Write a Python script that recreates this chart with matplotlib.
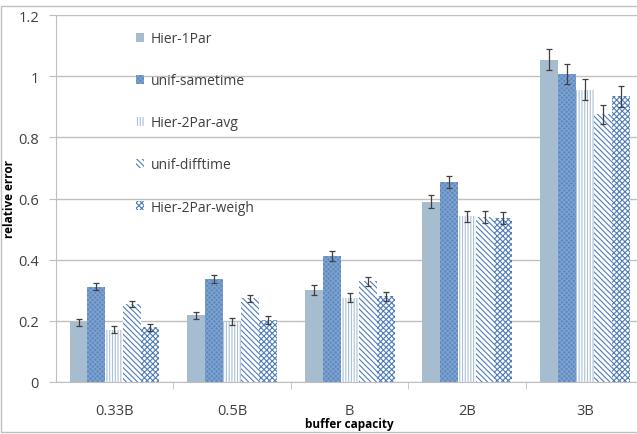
import numpy as np
import matplotlib
matplotlib.use("Agg")
import matplotlib.pyplot as plt
from matplotlib.patches import Rectangle

# data
categories = ['0.33B', '0.5B', 'B', '2B', '3B']
series = ['Hier-1Par', 'unif-sametime', 'Hier-2Par-avg', 'unif-difftime', 'Hier-2Par-weigh']
hier_1par = [0.195, 0.218, 0.301, 0.590, 1.054]
unif_sametime = [0.312, 0.337, 0.413, 0.655, 1.008]
hier_2par_avg = [0.171, 0.197, 0.275, 0.542, 0.956]
unif_difftime = [0.255, 0.274, 0.329, 0.540, 0.875]
hier_2par_weigh = [0.179, 0.203, 0.280, 0.535, 0.934]
err_1par = [0.011, 0.012, 0.016, 0.020, 0.035]
err_same = [0.012, 0.012, 0.016, 0.020, 0.033]
err_avg = [0.011, 0.012, 0.015, 0.018, 0.035]
err_diff = [0.011, 0.012, 0.014, 0.020, 0.032]
err_weigh = [0.011, 0.012, 0.014, 0.020, 0.035]
yticks = [0, 0.2, 0.4, 0.6, 0.8, 1.0, 1.2]
ytick_labels = ['0', '0.2', '0.4', '0.6', '0.8', '1', '1.2']

values = [hier_1par, unif_sametime, hier_2par_avg, unif_difftime, hier_2par_weigh]
errors = [err_1par, err_same, err_avg, err_diff, err_weigh]

# (face, hatch colour, hatch)
styles = [
    ('#A6BDCF', '#A6BDCF', None),
    ('#5E89BF', '#7FA3D0', 'xxxxxxx'),
    ('#FFFFFF', '#A9C0D6', '||||||'),
    ('#FFFFFF', '#4F7DBA', '\\\\\\\\\\\\'),
    ('#FFFFFF', '#4F7DBA', 'xxxxxx'),
]

plt.rcParams['font.family'] = ['Open Sans', 'DejaVu Sans']
plt.rcParams['hatch.linewidth'] = 0.8

W, H = 637, 435
fig = plt.figure(figsize=(W / 100, H / 100), dpi=100)

# outer chart border (right side runs off the picture)
fig.patches.append(Rectangle((1 / W, 2 / H), 1.2, 426 / H, transform=fig.transFigure,
                             fill=False, edgecolor='#BFBFBF', linewidth=1.0))

left, right, top, bottom = 55.7, 643.5, 16, 383
ax = fig.add_axes([left / W, 1 - bottom / H, (right - left) / W, (bottom - top) / H])

x = np.arange(len(categories))
bw = 0.153
for i, (name, vals, errs, st) in enumerate(zip(series, values, errors, styles)):
    face, hcol, hatch = st
    offs = (i - 2) * bw
    ax.bar(x + offs, vals, bw, color=face, edgecolor=hcol, linewidth=0, hatch=hatch,
           label=name, zorder=2)
    ax.errorbar(x + offs, vals, yerr=errs, fmt='none', ecolor='#404040', elinewidth=0.9,
                capsize=2, capthick=0.9, zorder=3)

ax.set_xlim(-0.5, len(categories) - 0.5)
ax.set_ylim(0, 1.2)
ax.set_yticks(yticks)
ax.set_yticklabels(ytick_labels)
ax.yaxis.grid(True, color='#BFBFBF', linewidth=1.0, zorder=0)
ax.set_axisbelow(True)

ax.set_xticks(x)
ax.set_xticklabels(categories)
ax.set_xticks(np.arange(0.5, len(categories) - 0.5), minor=True)
ax.tick_params(axis='x', which='major', length=0, pad=15, labelsize=10.5, colors='#404040')
ax.tick_params(axis='x', which='minor', length=5, color='#BFBFBF', direction='out')
ax.tick_params(axis='y', length=5, color='#BFBFBF', labelsize=10.5, labelcolor='#404040', pad=7)

for s in ['top', 'right']:
    ax.spines[s].set_visible(False)
ax.spines['left'].set_color('#BFBFBF')
ax.spines['bottom'].set_color('#BFBFBF')

ax.set_xlabel('buffer capacity', fontsize=8.5, fontweight='bold')
ax.xaxis.set_label_coords(0.5, -0.095)
ax.set_ylabel('relative error', fontsize=8.5, fontweight='bold')
ax.yaxis.set_label_coords(-0.068, 0.5)

leg = ax.legend(loc='upper left', bbox_to_anchor=(0.115, 0.99), frameon=False,
                fontsize=10, labelspacing=1.95, handlelength=0.6, handleheight=0.6,
                handletextpad=0.5, labelcolor='#404040')

fig.savefig('out.png', dpi=100)
